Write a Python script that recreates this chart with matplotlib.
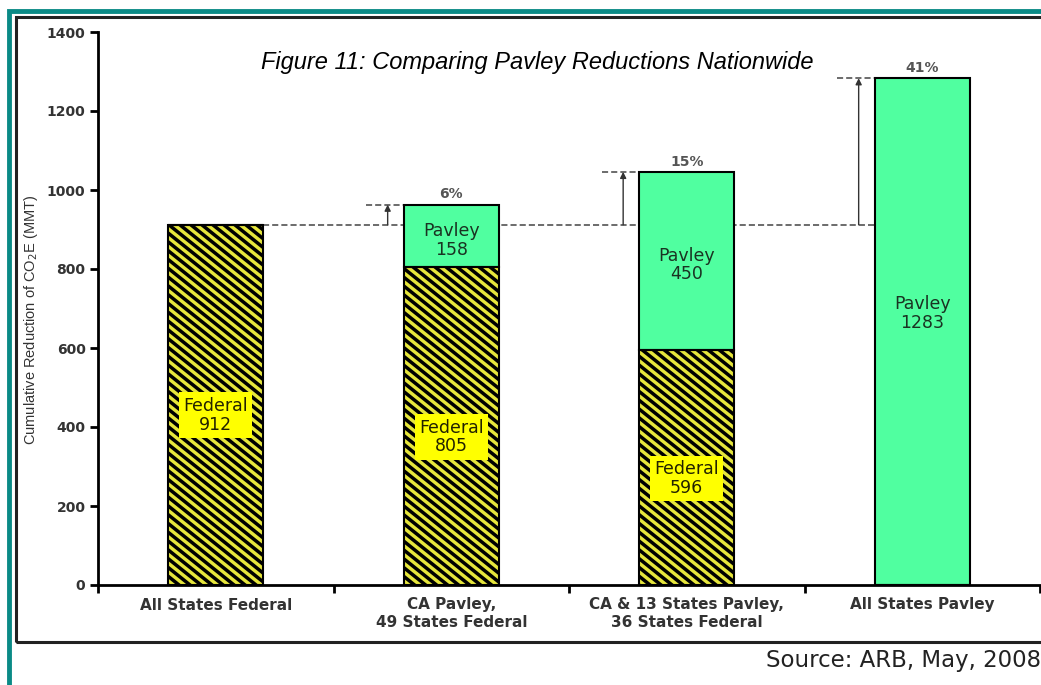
import matplotlib.pyplot as plt
import matplotlib.patches as mpatches
from matplotlib.collections import LineCollection
import numpy as np

# data
categories = ["All States Federal", "CA Pavley,\n49 States Federal",
              "CA & 13 States Pavley,\n36 States Federal", "All States Pavley"]
federal = [912, 805, 596, 0]
pavley = [0, 158, 450, 1283]
pct_labels = ["", "6%", "15%", "41%"]
yticks = [0, 200, 400, 600, 800, 1000, 1200, 1400]

# label heights inside the bars (data units)
fed_label_y = [430, 375, 270, None]
pav_label_y = [None, 873, 810, 688]

YELLOW = "#e6e63c"
GREEN = "#50ffa0"
TEAL = "#0a8a86"

fig = plt.figure(figsize=(10.41, 6.85), dpi=100)
ax = fig.add_axes([98 / 1041, 1 - 585 / 685, (1040 - 98) / 1041, (585 - 32) / 685])
ax.set_xlim(-0.5, 3.5)
ax.set_ylim(0, 1400)

x = np.arange(len(categories))
w = 0.405
base = federal[0]
tops = [f + p for f, p in zip(federal, pavley)]

# reference dashed line at the all-federal level
ax.plot([x[0] + w / 2, x[3] - w / 2], [base, base], ls=(0, (4, 2)), color="#444444", lw=1.1, zorder=1)

fed_bars = ax.bar(x, federal, w, color=YELLOW, edgecolor="none", zorder=2)
ax.bar(x, pavley, w, bottom=federal, color=GREEN, edgecolor="black", lw=1.5, zorder=2)

# diagonal stripes drawn by hand (built-in hatch spacing doesn't match)
period, slope = 11.0, 0.8
inv = ax.transData.inverted()
for bar in fed_bars:
    if bar.get_height() == 0:
        continue
    (X0, Y0), (X1, Y1) = ax.transData.transform(
        [(bar.get_x(), 0), (bar.get_x() + bar.get_width(), bar.get_height())])
    segs = []
    for c in np.arange(Y0, Y1 + slope * (X1 - X0) + period, period * slope):
        pts = inv.transform([(X0 - 5, c + slope * 5), (X1 + 5, c - slope * (X1 - X0 + 5))])
        segs.append(pts)
    lc = LineCollection(segs, colors="black", lw=2.5, zorder=2.1)
    ax.add_collection(lc)
    lc.set_clip_path(bar)
ax.bar(x, federal, w, color="none", edgecolor="black", lw=1.5, zorder=2.2)

for i in range(len(categories)):
    if fed_label_y[i] is not None:
        ax.text(x[i], fed_label_y[i], "Federal\n%d" % federal[i], ha="center", va="center",
                fontsize=12.5, color="#222200", linespacing=1.05, zorder=4,
                bbox=dict(boxstyle="square,pad=0.25", fc="#ffff00", ec="none"))
    if pav_label_y[i] is not None:
        ax.text(x[i], pav_label_y[i], "Pavley\n%d" % pavley[i], ha="center", va="center",
                fontsize=12.5, color="#1a3322", linespacing=1.05, zorder=4)
    if pct_labels[i]:
        ax.text(x[i], tops[i] + 8, pct_labels[i], ha="center", va="bottom",
                fontsize=10, fontweight="bold", color="#555555", zorder=4)
        # arrow showing the gain over the federal level
        xa = x[i] - 0.27
        ax.annotate("", xy=(xa, tops[i]), xytext=(xa, base),
                    arrowprops=dict(arrowstyle="-|>", color="#333333", lw=1.0,
                                    mutation_scale=9, shrinkA=0, shrinkB=0), zorder=3)
        ax.plot([x[i] - 0.36, x[i] - w / 2], [tops[i], tops[i]], ls=(0, (4, 2)),
                color="#444444", lw=1.1, zorder=1)

ax.set_yticks(yticks)
ax.set_yticklabels([str(t) for t in yticks], fontsize=10, fontweight="bold", color="#333333")
ax.set_xticks(x)
ax.set_xticklabels(categories, fontsize=11, fontweight="bold", color="#333333")
ax.set_xticks(np.arange(-0.5, 4.0, 1.0), minor=True)
ax.tick_params(axis="x", which="major", length=0, pad=9)
ax.tick_params(axis="x", which="minor", length=6, width=2, direction="out")
ax.tick_params(axis="y", length=6, width=2, direction="out", pad=3)
for s in ["top", "right"]:
    ax.spines[s].set_visible(False)
for s in ["left", "bottom"]:
    ax.spines[s].set_linewidth(2)

ax.set_ylabel("Cumulative Reduction of CO$_2$E (MMT)", fontsize=10.5, family="Liberation Sans",
              color="#333333")
ax.yaxis.set_label_coords(-58 / 942, 0.48)

fig.text(537 / 1041, 1 - 62 / 685, "Figure 11: Comparing Pavley Reductions Nationwide",
         ha="center", va="center", fontsize=17, style="italic", family="Liberation Sans")
fig.text(1041 / 1041, 1 - 660 / 685, "Source: ARB, May, 2008", ha="right", va="center",
         fontsize=16.5, color="#222222")

# page frames
fig.patches.append(mpatches.Rectangle((8.5 / 1041, -0.1), 1.2, 1 - 11.5 / 685 + 0.1,
                                      transform=fig.transFigure, fill=False, ec=TEAL, lw=3.5))
fig.patches.append(mpatches.Rectangle((16 / 1041, 1 - 642 / 685), 1.2, (642 - 17) / 685,
                                      transform=fig.transFigure, fill=False, ec="#222222", lw=2.2))

fig.savefig("out.png", dpi=100)
